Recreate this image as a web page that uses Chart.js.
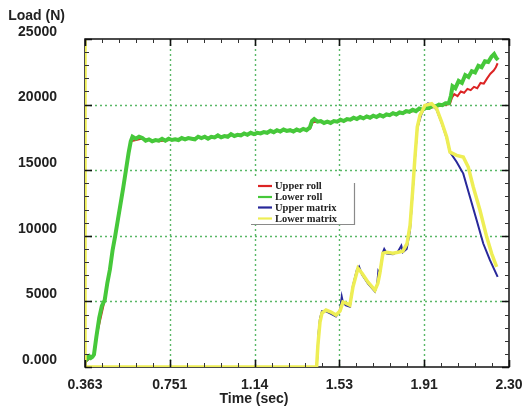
<!DOCTYPE html>
<html><head><meta charset="utf-8">
<script src="https://cdn.jsdelivr.net/npm/chart.js@4/dist/chart.umd.min.js"></script>
<style>html,body{margin:0;padding:0;background:#fff}#wrap{width:532px;height:417px;position:relative}</style>
</head><body><div id="wrap"><canvas id="c"></canvas></div>
<script>
const xTicks = [0.363, 0.7504, 1.1378, 1.5252, 1.9126, 2.300];
const xTickLabels = ['0.363', '0.751', '1.14', '1.53', '1.91', '2.30'];
const yTicks = [0, 5000, 10000, 15000, 20000, 25000];
const yTickLabels = ['0.000', '5000', '10000', '15000', '20000', '25000'];
const seriesNames = ['Upper roll', 'Lower roll', 'Upper matrix', 'Lower matrix'];
const xTitle = 'Time (sec)';
const yTitle = 'Load (N)';

const upperRollTime = [0.363,0.404,0.415,0.453,0.501,0.550,0.572,0.620,0.700,0.780,0.860,0.940,1.020,1.100,1.180,1.260,1.340,1.390,1.405,1.460,1.540,1.620,1.700,1.780,1.860,1.940,2.000,2.030,2.040,2.050,2.065,2.080,2.095,2.110,2.125,2.140,2.155,2.170,2.185,2.200,2.215,2.230,2.240,2.248];
const upperRollLoad = [350,950,2300,5100,10000,15000,17200,17400,17200,17350,17450,17500,17650,17750,17850,18000,18050,18150,18700,18650,18750,19000,19100,19300,19500,19750,19950,20050,20550,20800,20650,21000,20900,21200,21100,21350,21250,21650,21600,22000,22350,22600,22850,23150];

const lowerRollTime = [0.363,0.368,0.375,0.383,0.390,0.397,0.404,0.415,0.428,0.440,0.453,0.465,0.477,0.489,0.501,0.514,0.526,0.538,0.550,0.562,0.572,0.580,
0.595,0.610,0.625,0.640,0.655,0.670,0.685,0.700,0.715,0.730,0.745,0.760,0.775,0.790,0.805,0.820,0.835,0.850,0.865,0.880,0.895,0.910,0.925,0.940,0.955,0.970,0.985,1.000,1.015,1.030,1.045,1.060,1.075,1.090,1.105,1.120,1.135,1.150,1.165,1.180,1.195,1.210,1.225,1.240,1.255,1.270,1.285,1.300,1.315,1.330,1.345,1.360,1.375,1.390,
1.400,1.410,
1.425,1.440,1.455,1.470,1.485,1.500,1.515,1.530,1.545,1.560,1.575,1.590,1.605,1.620,1.635,1.650,1.665,1.680,1.695,1.710,1.725,1.740,1.755,1.770,1.785,1.800,1.815,1.830,1.845,1.860,1.875,1.890,1.905,1.920,1.935,1.950,1.965,1.980,1.995,2.010,2.025,
2.035,2.042,2.055,2.070,2.085,2.100,2.115,2.130,2.145,2.160,2.175,2.190,2.205,2.220,2.232,2.242,2.250];
const lowerRollLoad = [350,800,650,820,700,780,950,2300,3750,4650,5100,6400,7450,8900,10000,11300,12500,13700,15000,16300,17200,17550,
17400,17550,17450,17250,17350,17200,17300,17250,17400,17250,17400,17300,17350,17300,17450,17350,17450,17400,17350,17550,17450,17550,17400,17550,17500,17650,17500,17600,17550,17750,17600,17700,17650,17800,17700,17850,17750,17850,17800,17900,17850,18000,17900,18050,17950,18100,18000,18050,17950,18100,18000,18150,18050,18250,
18750,18900,
18700,18750,18600,18700,18600,18750,18700,18850,18750,18900,18850,19000,18900,19050,18950,19100,19000,19150,19050,19200,19100,19250,19200,19350,19250,19400,19350,19500,19450,19600,19500,19700,19600,19750,19750,19900,19850,20000,19950,20100,20100,
20700,21400,21250,21800,21650,22250,22100,22550,22450,22950,22850,23300,23250,23650,23850,23550,23400];

const upperMatrixTime = [1.421,1.425,1.430,1.4365,1.4456,1.464,1.487,1.5095,1.528,1.536,1.5415,1.555,1.573,1.587,1.605,1.615,1.6285,1.656,1.6875,1.698,1.703,1.710,1.724,1.730,1.742,1.770,1.793,1.808,1.815,1.8325,1.8476,1.860,1.8704,1.881,1.895,1.901,1.916,1.930,1.9467,1.9695,1.9924,2.0152,2.0303,2.0609,2.0911,2.1217,2.1523,2.1824,2.213,2.2482];
const upperMatrixLoad = [0,900,2600,3700,4250,4250,4050,3850,4300,5350,4900,4700,4600,6200,7400,7650,7050,6350,5750,6300,7300,7100,8750,9000,8650,8600,8800,9250,8750,9000,10400,13400,15900,18200,19000,19300,19900,20100,20000,19600,18600,17450,16380,15620,14740,12960,11190,9410,8140,6870];

const lowerMatrixTime = [0.363,0.363,1.421,1.427,1.4365,1.4456,1.464,1.487,1.5095,1.528,1.5415,1.555,1.573,1.587,1.610,1.6285,1.656,1.6875,1.701,1.710,1.724,1.742,1.770,1.793,1.815,1.834,1.848,1.860,1.8704,1.881,1.8933,1.9161,1.9467,1.9695,1.9924,2.0152,2.0303,2.0609,2.0911,2.1139,2.1368,2.1674,2.198,2.2208,2.2436];
const lowerMatrixLoad = [25000,0,0,1670,3420,4110,4340,4190,3960,4260,4950,4870,4720,6090,7530,7150,6470,5860,6390,7150,8680,8750,8680,8750,8830,9400,10800,13470,16000,18290,19180,19940,20070,19690,18670,17530,16380,16130,16000,15240,13720,11950,9920,8650,7630];

const colors = ['#dc2424', '#46c83a', '#28289a', '#eeee55'];
const widths = [2, 4, 2, 3.5];
const orders = [3, 2, 1, 0];
const pairs = (t, v) => t.map((x, i) => ({x: x, y: v[i]}));
const seriesData = [
  pairs(upperRollTime, upperRollLoad),
  pairs(lowerRollTime, lowerRollLoad),
  pairs(upperMatrixTime, upperMatrixLoad),
  pairs(lowerMatrixTime, lowerMatrixLoad)
];

const SANS = "'Liberation Sans', Arial, sans-serif";

const decor = {
  id: 'decor',
  beforeDatasetsDraw(chart) {
    const {ctx, chartArea: a, scales: {x, y}} = chart;
    ctx.save();
    ctx.strokeStyle = 'rgba(80,180,95,0.95)';
    ctx.lineWidth = 1.4;
    ctx.setLineDash([2, 3]);
    xTicks.slice(1, -1).forEach(v => {
      const px = Math.round(x.getPixelForValue(v)) + 0.5;
      ctx.beginPath(); ctx.moveTo(px, a.top); ctx.lineTo(px, a.bottom); ctx.stroke();
    });
    yTicks.slice(1, -1).forEach(v => {
      const py = Math.round(y.getPixelForValue(v)) + 0.5;
      ctx.beginPath(); ctx.moveTo(a.left, py); ctx.lineTo(a.right, py); ctx.stroke();
    });
    ctx.setLineDash([]);
    ctx.strokeStyle = '#111';
    ctx.lineWidth = 1.5;
    ctx.strokeRect(a.left, a.top, a.right - a.left, a.bottom - a.top);
    ctx.restore();
  },
  afterDatasetsDraw(chart) {
    const {ctx, chartArea: a, scales: {x, y}} = chart;
    ctx.save();
    const tick = (isX, v, len, w, col) => {
      ctx.strokeStyle = col; ctx.lineWidth = w;
      ctx.beginPath();
      if (isX) {
        const px = Math.round(x.getPixelForValue(v)) + 0.5;
        ctx.moveTo(px, a.bottom); ctx.lineTo(px, a.bottom - len);
        ctx.moveTo(px, a.top); ctx.lineTo(px, a.top + len);
      } else {
        const py = Math.round(y.getPixelForValue(v)) + 0.5;
        ctx.moveTo(a.left, py); ctx.lineTo(a.left + len, py);
        ctx.moveTo(a.right, py); ctx.lineTo(a.right - len, py);
      }
      ctx.stroke();
    };
    for (let i = 0; i < xTicks.length; i++) {
      tick(true, xTicks[i], 7, 1.6, '#111');
      if (i < xTicks.length - 1) {
        for (let k = 1; k < 5; k++) tick(true, xTicks[i] + (xTicks[i + 1] - xTicks[i]) * k / 5, 4, 1, '#333');
      }
    }
    for (let i = 0; i < yTicks.length; i++) {
      tick(false, yTicks[i], 7, 1.6, '#111');
      if (i < yTicks.length - 1) {
        for (let k = 1; k < 5; k++) tick(false, yTicks[i] + (yTicks[i + 1] - yTicks[i]) * k / 5, 4, 1, '#333');
      }
    }
    const bx = 250, by = 179, bw = 104, bh = 45;
    ctx.fillStyle = '#fff';
    ctx.fillRect(bx, by, bw, bh);
    ctx.strokeStyle = '#8a8a8a'; ctx.lineWidth = 1.2;
    ctx.beginPath();
    ctx.moveTo(bx + 1, by + bh + 0.5); ctx.lineTo(bx + bw + 0.5, by + bh + 0.5); ctx.lineTo(bx + bw + 0.5, by + 4);
    ctx.stroke();
    ctx.font = "bold 10.5px 'Liberation Serif', 'Times New Roman', serif";
    ctx.textBaseline = 'middle'; ctx.textAlign = 'left';
    const rows = [186, 197, 207.5, 218.5];
    chart.data.datasets.forEach((ds, i) => {
      ctx.strokeStyle = ds.borderColor; ctx.lineWidth = 2.2;
      ctx.beginPath(); ctx.moveTo(258, rows[i]); ctx.lineTo(272, rows[i]); ctx.stroke();
      ctx.fillStyle = '#222';
      ctx.fillText(ds.label, 275, rows[i] + 0.5);
    });
    ctx.restore();
  },
  afterDraw(chart) {
    const {ctx} = chart;
    ctx.save();
    ctx.fillStyle = '#222';
    ctx.font = 'bold 14px ' + SANS;
    ctx.textBaseline = 'alphabetic';
    ctx.textAlign = 'right';
    ctx.fillText(yTitle, 65, 20);
    ctx.textAlign = 'center';
    ctx.fillText(xTitle, 254, 403);
    ctx.restore();
  }
};

new Chart(document.getElementById('c'), {
  type: 'line',
  data: {
    datasets: seriesNames.map((n, i) => ({
      label: n,
      data: seriesData[i],
      borderColor: colors[i],
      backgroundColor: colors[i],
      borderWidth: widths[i],
      order: orders[i],
      pointRadius: 0,
      tension: 0,
      fill: false
    }))
  },
  options: {
    responsive: true,
    maintainAspectRatio: false,
    animation: false,
    layout: {padding: {top: 39, right: 23, left: 0, bottom: 0}},
    plugins: {legend: {display: false}, tooltip: {enabled: false}},
    scales: {
      x: {
        type: 'linear', min: 0.363, max: 2.30,
        grid: {display: false},
        border: {display: false},
        afterBuildTicks: s => { s.ticks = xTicks.map(v => ({value: v})); },
        afterFit: s => { s.height = 50; },
        ticks: {
          autoSkip: false, maxRotation: 0, padding: 2,
          color: '#222', font: {family: SANS, size: 14, weight: 'bold'},
          callback: (v, i) => xTickLabels[i]
        }
      },
      y: {
        type: 'linear', min: 0, max: 25000,
        grid: {display: false},
        border: {display: false},
        afterBuildTicks: s => { s.ticks = yTicks.map(v => ({value: v})); },
        afterFit: s => { s.width = 85; },
        ticks: {
          padding: 20, labelOffset: -7,
          color: '#222', font: {family: SANS, size: 14, weight: 'bold'},
          callback: (v, i) => yTickLabels[i]
        }
      }
    }
  },
  plugins: [decor]
});
</script>
</body></html>
